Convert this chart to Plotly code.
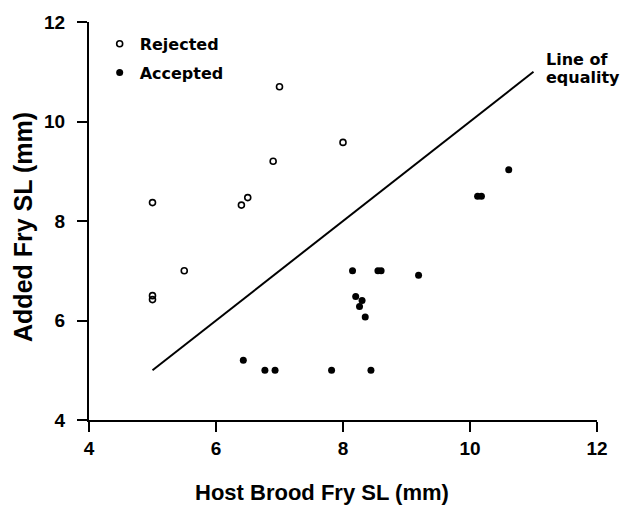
import plotly.graph_objects as go

# Data
rejected_x = [7.0, 8.0, 6.9, 5.0, 6.5, 6.4, 5.5, 5.0, 5.0]
rejected_y = [10.7, 9.58, 9.2, 8.37, 8.47, 8.32, 7.0, 6.5, 6.42]

accepted_x = [6.43, 6.77, 6.93, 7.82, 8.44, 8.15, 8.55, 8.6, 9.19, 8.2, 8.3, 8.26, 8.35, 10.61, 10.12, 10.18]
accepted_y = [5.2, 5.0, 5.0, 5.0, 5.0, 7.0, 7.0, 7.0, 6.91, 6.48, 6.4, 6.28, 6.07, 9.03, 8.5, 8.5]

equality_x = [5, 11]
equality_y = [5, 11]

tick_vals = [4, 6, 8, 10, 12]
axis_range = [4, 12]

FONT = "Liberation Sans"
FONT2 = "DejaVu Sans"

fig = go.Figure()
fig.add_trace(go.Scatter(
    x=rejected_x, y=rejected_y, mode="markers", name="Rejected", legendgroup="r",
    marker=dict(symbol="circle-open", size=6, color="black", line=dict(width=1.6, color="black")),
))
fig.add_trace(go.Scatter(
    x=accepted_x, y=accepted_y, mode="markers", name="Accepted", legendgroup="a",
    marker=dict(symbol="circle", size=7, color="black"),
))
fig.add_trace(go.Scatter(
    x=equality_x, y=equality_y, mode="lines", showlegend=False,
    line=dict(color="black", width=2),
))

label_font = dict(family=FONT2, size=16, color="black", weight="bold")
fig.add_annotation(x=equality_x[1], y=equality_y[1], xref="x", yref="y",
                   text="Line of", showarrow=False, xanchor="left", yanchor="middle",
                   xshift=10, yshift=12, font=label_font)
fig.add_annotation(x=equality_x[1], y=equality_y[1], xref="x", yref="y",
                   text="equality", showarrow=False, xanchor="left", yanchor="middle",
                   xshift=10, yshift=-6, font=label_font)

fig.add_annotation(x=0.459, y=-0.1825, xref="paper", yref="paper", text="Host Brood Fry SL (mm)",
                   showarrow=False, xanchor="center", yanchor="middle",
                   font=dict(family=FONT, size=22, color="black", weight="bold"))
fig.add_annotation(x=-0.13, y=0.5, xref="paper", yref="paper", text="Added Fry SL (mm)",
                   showarrow=False, xanchor="center", yanchor="middle", textangle=-90, yshift=-6,
                   font=dict(family=FONT, size=25, color="black", weight="bold"))

tick_font = dict(family=FONT, size=19, color="black", weight="bold")

fig.update_layout(
    width=620, height=508,
    margin=dict(l=89, r=14, t=20, b=88),
    plot_bgcolor="white", paper_bgcolor="white",
    xaxis=dict(showline=True, linecolor="black", linewidth=2,
               ticks="outside", ticklen=10, tickwidth=1.5, tickcolor="black",
               showgrid=False, zeroline=False, tickmode="array", tickvals=tick_vals, range=axis_range,
               tickfont=tick_font, ticklabelstandoff=0),
    yaxis=dict(showline=True, linecolor="black", linewidth=2,
               ticks="outside", ticklen=10, tickwidth=1.5, tickcolor="black",
               showgrid=False, zeroline=False, tickmode="array", tickvals=tick_vals, range=axis_range,
               tickfont=tick_font, ticklabelstandoff=8),
    legend=dict(x=0.021, y=0.988, xanchor="left", yanchor="top",
                font=dict(family=FONT2, size=16, color="black", weight="bold"),
                tracegroupgap=5, itemwidth=30, bgcolor="rgba(0,0,0,0)"),
)

fig.write_html("out.html")
